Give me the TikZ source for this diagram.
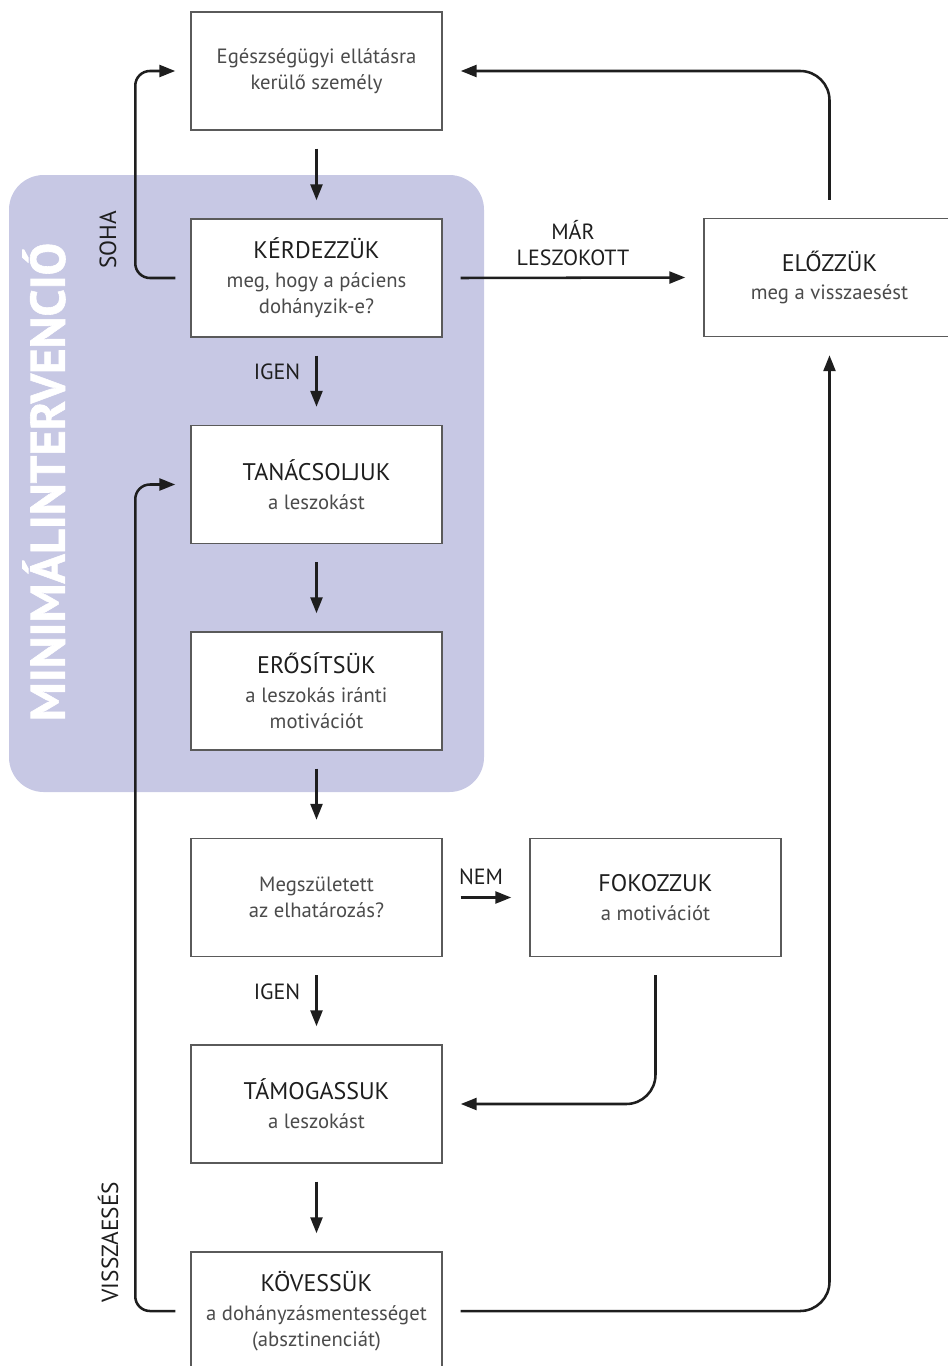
\documentclass[tikz,border=0pt]{standalone}
\usepackage{fontspec}
\setmainfont{PT Sans}
\usetikzlibrary{arrows.meta,calc}
\definecolor{lav}{RGB}{199,200,228}
\definecolor{boxline}{RGB}{90,90,90}
\definecolor{ink}{RGB}{30,30,30}
\definecolor{subink}{RGB}{75,75,75}
\newcommand{\ttl}[1]{{\fontsize{18}{19.5}\selectfont\color{ink}#1}}
\newcommand{\subt}[1]{{\color{subink}#1}}
\begin{document}
\begin{tikzpicture}[x=0.75pt,y=-0.75pt,
  box/.style={draw=boxline, line width=1.1pt, fill=white, minimum width=188.25pt,
    minimum height=88.5pt, align=center, inner sep=0pt,
    font=\fontsize{15.5}{19.5}\selectfont},
  flow/.style={line width=1.9pt, draw=ink, -{Triangle[length=12pt,width=9pt]}},
  lbl/.style={font=\fontsize{16.5}{19.5}\selectfont, text=ink}]
\useasboundingbox (0,0) rectangle (948,1366);
\fill[lav, rounded corners=26pt] (9,175) rectangle (484,792);
\node[rotate=90, text=white, font=\bfseries\fontsize{36.5}{37}\selectfont\addfontfeature{FakeBold=1.2}] (mi) at (44,482) {MINIMÁLINTERVENCIÓ};

\node[box] (b1) at (316.5,71) {\subt{Egészségügyi ellátásra}\\\subt{kerülő személy}};
\node[box] (b2) at (316.5,278) {\ttl{KÉRDEZZÜK}\\[2pt]\subt{meg, hogy a páciens}\\\subt{dohányzik-e?}};
\node[box] (b3) at (316.5,484.5) {\ttl{TANÁCSOLJUK}\\[2pt]\subt{a leszokást}};
\node[box] (b4) at (316.5,691) {\ttl{ERŐSÍTSÜK}\\[2pt]\subt{a leszokás iránti}\\\subt{motivációt}};
\node[box] (b5) at (316.5,897.5) {\subt{Megszületett}\\\subt{az elhatározás?}};
\node[box] (b6) at (655.5,897.5) {\ttl{FOKOZZUK}\\[2pt]\subt{a motivációt}};
\node[box] (b7) at (316.5,1104) {\ttl{TÁMOGASSUK}\\[2pt]\subt{a leszokást}};
\node[box] (b8) at (316.5,1311) {\ttl{KÖVESSÜK}\\[2pt]\subt{a dohányzásmentességet}\\\subt{(absztinenciát)}};
\node[box] (b9) at (829.5,277.5) {\ttl{ELŐZZÜK}\\[2pt]\subt{meg a visszaesést}};

\draw[flow] ($(b1.south)+(0,18)$) -- ($(b2.north)+(0,-18)$);
\draw[flow] ($(b2.south)+(0,18)$) -- ($(b3.north)+(0,-18)$);
\draw[flow] ($(b3.south)+(0,18)$) -- ($(b4.north)+(0,-18)$);
\draw[flow] ($(b4.south)+(0,18)$) -- ($(b5.north)+(0,-18)$);
\draw[flow] ($(b5.south)+(0,18)$) -- ($(b7.north)+(0,-18)$);
\draw[flow] ($(b7.south)+(0,18)$) -- ($(b8.north)+(0,-18)$);
\draw[flow] ($(b5.east)+(18,0)$) -- ($(b6.west)+(-18,0)$);
\draw[flow] ($(b2.east)+(18,0)$) -- ($(b9.west)+(-18,0)$);
\draw[flow, rounded corners=11pt] ($(b2.west)+(-15,0)$) -- ++(-40,0) |- ($(b1.west)+(-15,0)$);
\draw[flow, rounded corners=11pt] ($(b8.west)+(-15,0)$) -- ++(-40,0) |- ($(b3.west)+(-15,0)$);
\draw[flow, rounded corners=22pt] ($(b9.north)+(0,-18)$) |- ($(b1.east)+(18,0)$);
\draw[flow, rounded corners=22pt] ($(b6.south)+(0,18)$) |- ($(b7.east)+(18,0)$);
\draw[flow, rounded corners=22pt] ($(b8.east)+(18,0)$) -| ($(b9.south)+(0,18)$);

\node[lbl, anchor=east] (igen1) at (305,372) {IGEN};
\node[lbl, anchor=east] (igen2) at (305,992) {IGEN};
\node[lbl] (nem) at (481,877) {NEM};
\node[lbl, align=center, font=\fontsize{16.5}{20}\selectfont] (mar) at (573,243) {MÁR\\LESZOKOTT};
\node[lbl, rotate=90, font=\fontsize{17.5}{19.5}\selectfont] (soha) at (108,240) {SOHA};
\node[lbl, rotate=90, font=\fontsize{17.5}{19.5}\selectfont] (vissza) at (108,1242) {VISSZAESÉS};
\end{tikzpicture}
\end{document}
